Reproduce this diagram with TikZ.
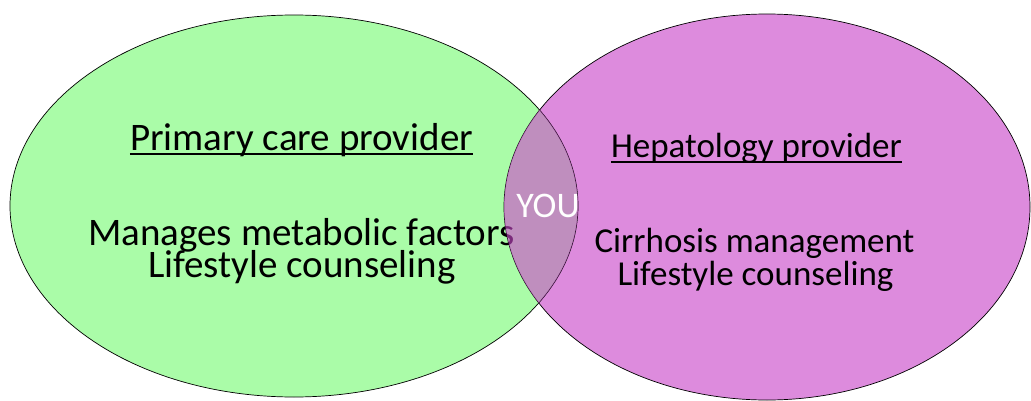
\documentclass[tikz,border=0pt]{standalone}
\usepackage{fontspec}
\setmainfont{Carlito}
\usetikzlibrary{positioning}
\definecolor{mygreen}{RGB}{170,252,168}
\definecolor{mypurple}{RGB}{221,139,221}
\definecolor{myoverlap}{RGB}{205,70,206}
\tikzset{
  blob/.style={draw=black, line width=0.7},
  head/.style={inner sep=0, anchor=base},
  head big/.style={head, font=\fontsize{39}{39}\selectfont},
  head small/.style={head, font=\fontsize{35}{35}\selectfont},
  txt big/.style={head, font=\fontsize{39}{39}\selectfont},
  txt small/.style={head, font=\fontsize{35}{35}\selectfont},
  uline/.style={line width=2}
}

\begin{document}
\begin{tikzpicture}[x=1pt,y=1pt]
  \useasboundingbox (0,0) rectangle (1031,400);

  % --- ELLIPSES ---
  \fill[mypurple] (767,193) ellipse [x radius=263, y radius=193];
  \fill[mygreen] (294,194) ellipse [x radius=284, y radius=191];
  \draw[blob] (294,194) ellipse [x radius=284, y radius=191];
  \draw[blob] (767,193) ellipse [x radius=263, y radius=193];

  % --- LEFT: PRIMARY CARE ---
  \node[head big] (pcp) at (301.5,250) {Primary care provider};
  \draw[uline] ([yshift=-4]pcp.base west) -- ([yshift=-4]pcp.base east);
  \node[txt big] (pcp-1) at (301.5,155) {Manages metabolic factors};
  \node[txt big] (pcp-2) at (302,123) {Lifestyle counseling};

  % overlap, drawn over the text so the "s" shows through
  \begin{scope}
    \clip (294,194) ellipse [x radius=284, y radius=191];
    \fill[myoverlap, fill opacity=0.6] (767,193) ellipse [x radius=263, y radius=193];
  \end{scope}

  % --- RIGHT: HEPATOLOGY ---
  \node[head small] (hep) at (756.5,243) {Hepatology provider};
  \draw[uline] ([yshift=-5]hep.base west) -- ([yshift=-5]hep.base east);
  \node[txt small] (hep-1) at (754.5,148) {Cirrhosis management};
  \node[txt small] (hep-2) at (755.5,115) {Lifestyle counseling};

  % --- CENTRE ---
  \node[head, white, font=\fontsize{36}{36}\selectfont] (you) at (548,183) {YOU};

\end{tikzpicture}
\end{document}
